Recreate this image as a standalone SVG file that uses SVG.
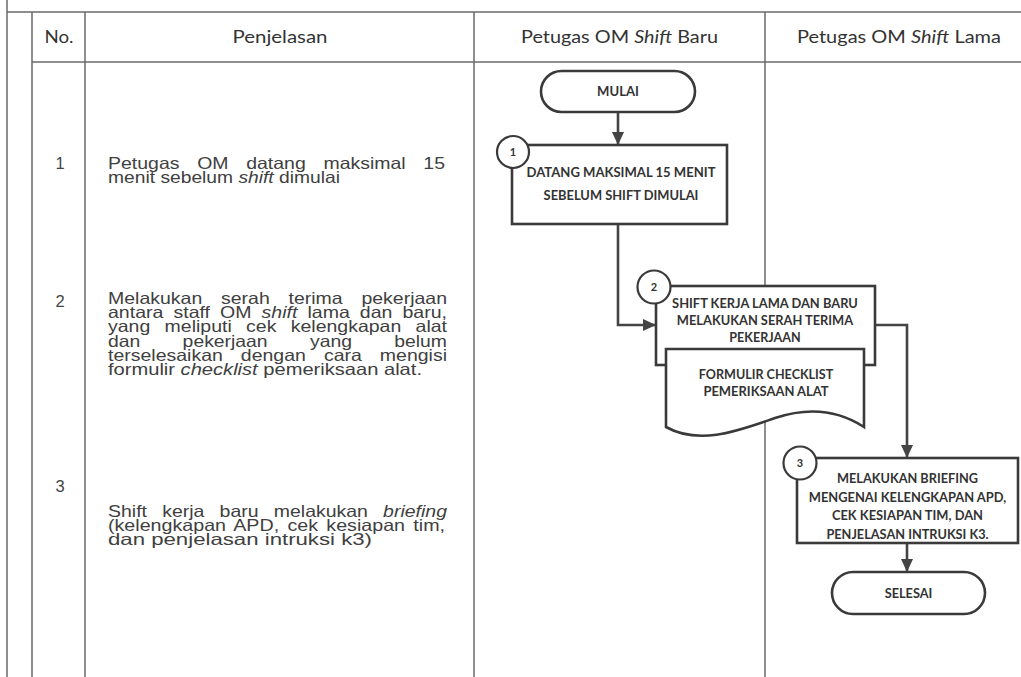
<svg xmlns="http://www.w3.org/2000/svg" width="1021" height="677" viewBox="0 0 1021 677">
<style>
.grid{stroke:#6a6a6a;stroke-width:1.5;fill:none}
.hdr{font-family:Lato,"Liberation Sans",sans-serif;font-size:17.5px;fill:#333;text-anchor:middle}
.num{font-family:"Liberation Sans",Arial,sans-serif;font-size:16.5px;fill:#444;text-anchor:middle}
.desc{font-family:"Liberation Sans",Arial,sans-serif;font-size:16.5px;fill:#404040}
.shape{fill:#fff;stroke:#3a3a3a;stroke-width:2.6}
.circ{fill:#fff;stroke:#3a3a3a;stroke-width:2.2}
.lbl{font-family:Lato,"Liberation Sans",sans-serif;font-weight:700;font-size:12.5px;fill:#333;text-anchor:middle}
.cnum{font-family:Lato,"Liberation Sans",sans-serif;font-weight:700;font-size:11px;fill:#333;text-anchor:middle}
.conn{fill:none;stroke:#444;stroke-width:2.6}
</style>
<defs>
<marker id="arr" viewBox="0 0 13 12" refX="13" refY="6" markerWidth="13" markerHeight="12" markerUnits="userSpaceOnUse" orient="auto">
<path d="M0,0 L13,6 L0,12 z" fill="#444"/>
</marker>
</defs>
<rect x="0" y="0" width="1021" height="677" fill="#fff"/>
<g id="table">
<line class="grid" x1="7" y1="0" x2="7" y2="677"/>
<line class="grid" x1="7" y1="12" x2="1021" y2="12"/>
<line class="grid" x1="32" y1="62" x2="1021" y2="62"/>
<line class="grid" x1="32" y1="12" x2="32" y2="677"/>
<line class="grid" x1="85" y1="12" x2="85" y2="677"/>
<line class="grid" x1="474" y1="12" x2="474" y2="677"/>
<line class="grid" x1="765" y1="12" x2="765" y2="677"/>
<text class="hdr" x="59" y="43" textLength="29" lengthAdjust="spacingAndGlyphs">No.</text>
<text class="hdr" x="280" y="43" textLength="95" lengthAdjust="spacingAndGlyphs">Penjelasan</text>
<text class="hdr" x="619.5" y="43" textLength="197" lengthAdjust="spacingAndGlyphs">Petugas OM <tspan font-style="italic">Shift</tspan> Baru</text>
<text class="hdr" x="899" y="43" textLength="204" lengthAdjust="spacingAndGlyphs">Petugas OM <tspan font-style="italic">Shift</tspan> Lama</text>
</g>
<g id="step-1-text">
<text class="num" x="60" y="169">1</text>
<text class="desc" x="108" y="169" word-spacing="10.4" textLength="337" lengthAdjust="spacingAndGlyphs">Petugas OM datang maksimal 15</text>
<text class="desc" x="108" y="183" textLength="232" lengthAdjust="spacingAndGlyphs">menit sebelum <tspan font-style="italic">shift</tspan> dimulai</text>
</g>
<g id="step-2-text">
<text class="num" x="60" y="307">2</text>
<text class="desc" x="108" y="304" word-spacing="11.3" textLength="339" lengthAdjust="spacingAndGlyphs">Melakukan serah terima pekerjaan</text>
<text class="desc" x="108" y="318" word-spacing="3.9" textLength="339" lengthAdjust="spacingAndGlyphs">antara staff OM <tspan font-style="italic">shift</tspan> lama dan baru,</text>
<text class="desc" x="108" y="332" word-spacing="7.6" textLength="339" lengthAdjust="spacingAndGlyphs">yang meliputi cek kelengkapan alat</text>
<text class="desc" x="108" y="347" word-spacing="31.5" textLength="339" lengthAdjust="spacingAndGlyphs">dan pekerjaan yang belum</text>
<text class="desc" x="108" y="361" word-spacing="10.7" textLength="339" lengthAdjust="spacingAndGlyphs">terselesaikan dengan cara mengisi</text>
<text class="desc" x="108" y="375" textLength="314" lengthAdjust="spacingAndGlyphs">formulir <tspan font-style="italic">checklist</tspan> pemeriksaan alat.</text>
</g>
<g id="step-3-text">
<text class="num" x="60" y="492">3</text>
<text class="desc" x="108" y="517" word-spacing="8.3" textLength="339" lengthAdjust="spacingAndGlyphs">Shift kerja baru melakukan <tspan font-style="italic">briefing</tspan></text>
<text class="desc" x="108" y="531" word-spacing="2.4" textLength="337" lengthAdjust="spacingAndGlyphs">(kelengkapan APD, cek kesiapan tim,</text>
<text class="desc" x="108" y="544.5" textLength="264" lengthAdjust="spacingAndGlyphs">dan penjelasan intruksi k3)</text>
</g>
<g id="connectors">
<path class="conn" d="M618,112 V145" marker-end="url(#arr)"/>
<path class="conn" d="M618,224 V325 H656" marker-end="url(#arr)"/>
<path class="conn" d="M875,325 H907 V458" marker-end="url(#arr)"/>
<path class="conn" d="M907,543 V572" marker-end="url(#arr)"/>
</g>
<g id="node-mulai">
<rect class="shape" x="541" y="71" width="154" height="41" rx="20.5"/>
<text class="lbl" x="618" y="96" textLength="41.8" lengthAdjust="spacingAndGlyphs">MULAI</text>
</g>
<g id="node-1">
<rect class="shape" x="512" y="145" width="215" height="79"/>
<text class="lbl" x="621" y="177" textLength="189" lengthAdjust="spacingAndGlyphs">DATANG MAKSIMAL 15 MENIT</text>
<text class="lbl" x="621" y="199.5" textLength="154.8" lengthAdjust="spacingAndGlyphs">SEBELUM SHIFT DIMULAI</text>
<circle class="circ" cx="513" cy="152" r="16"/>
<text class="cnum" x="513" y="156">1</text>
</g>
<g id="node-2">
<rect class="shape" x="656" y="286" width="219" height="79"/>
<text class="lbl" x="765" y="307.5" textLength="185.8" lengthAdjust="spacingAndGlyphs">SHIFT KERJA LAMA DAN BARU</text>
<text class="lbl" x="765" y="324.5" textLength="176.3" lengthAdjust="spacingAndGlyphs">MELAKUKAN SERAH TERIMA</text>
<text class="lbl" x="765" y="341.5" textLength="71.3" lengthAdjust="spacingAndGlyphs">PEKERJAAN</text>
<circle class="circ" cx="654" cy="287" r="16.5"/>
<text class="cnum" x="654" y="291">2</text>
</g>
<g id="node-doc">
<path class="shape" d="M666,349 H864 V427 C835,408 805,408 775,418 C740,430 700,446 666,427 Z"/>
<text class="lbl" x="766" y="378.5" textLength="134.5" lengthAdjust="spacingAndGlyphs">FORMULIR CHECKLIST</text>
<text class="lbl" x="766" y="395.5" textLength="125.2" lengthAdjust="spacingAndGlyphs">PEMERIKSAAN ALAT</text>
</g>
<g id="node-3">
<rect class="shape" x="797" y="458" width="221" height="85"/>
<text class="lbl" x="907.5" y="483" textLength="141" lengthAdjust="spacingAndGlyphs">MELAKUKAN BRIEFING</text>
<text class="lbl" x="907.5" y="502" textLength="197.5" lengthAdjust="spacingAndGlyphs">MENGENAI KELENGKAPAN APD,</text>
<text class="lbl" x="907.5" y="520" textLength="151.1" lengthAdjust="spacingAndGlyphs">CEK KESIAPAN TIM, DAN</text>
<text class="lbl" x="907.5" y="539" textLength="162.2" lengthAdjust="spacingAndGlyphs">PENJELASAN INTRUKSI K3.</text>
<circle class="circ" cx="800" cy="463" r="16.5"/>
<text class="cnum" x="800" y="467">3</text>
</g>
<g id="node-selesai">
<rect class="shape" x="832" y="572" width="153" height="42" rx="21"/>
<text class="lbl" x="908.5" y="597.5" textLength="47.6" lengthAdjust="spacingAndGlyphs">SELESAI</text>
</g>
</svg>
